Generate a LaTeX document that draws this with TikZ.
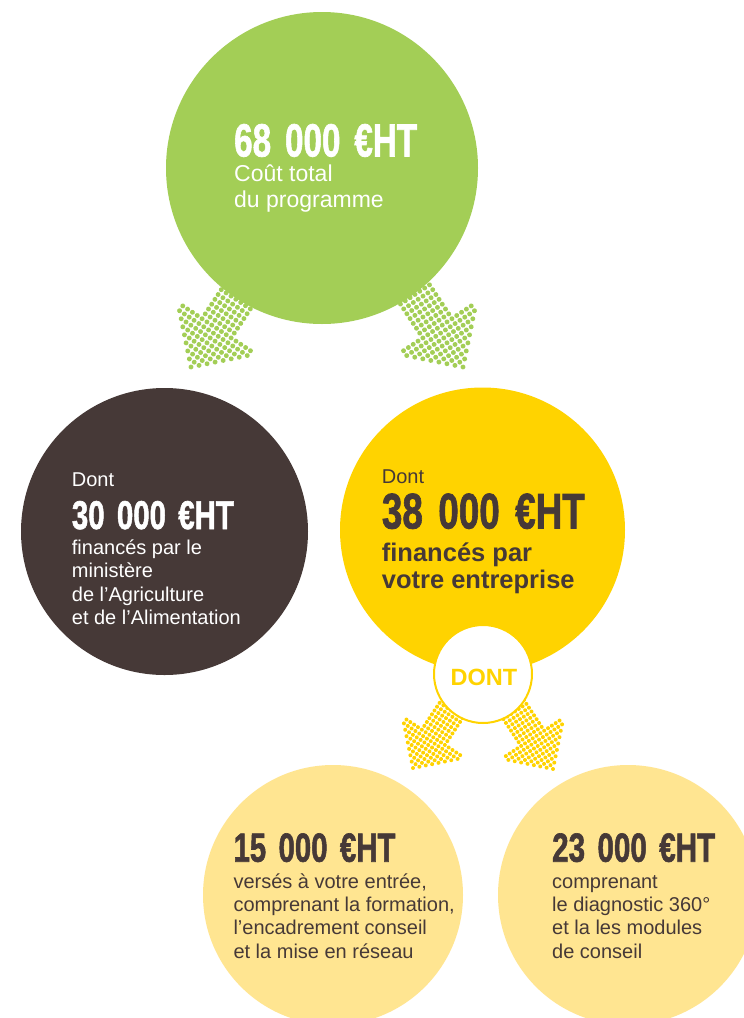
\documentclass[tikz,border=0pt]{standalone}
\usepackage{fontspec}
\setmainfont{Liberation Sans}
\newfontfamily\numfont{Liberation Sans}[FakeBold=1.6]
\usepackage{graphicx}
\definecolor{cgreen}{HTML}{A3CE56}
\definecolor{cdark}{HTML}{463937}
\definecolor{cyellow}{HTML}{FFD300}
\definecolor{cpale}{HTML}{FFE591}
\newcommand\setarrowdims[6]{\def\ah{#1}\def\aw{#2}\def\as{#3}\def\al{#4}\def\asp{#5}\def\ar{#6}}
\newcommand\dotarrow[4]{%
  \begin{scope}[shift={(#1,#2)},rotate=#3]
    \pgfmathtruncatemacro\imax{\al/\asp}
    \pgfmathtruncatemacro\jmax{\aw/\asp}
    \foreach \i in {0,...,\imax}{
      \foreach \j in {-\jmax,...,\jmax}{
        \pgfmathsetmacro\uu{-\i*\asp}
        \pgfmathsetmacro\vv{\j*\asp}
        \pgfmathtruncatemacro\ok{((abs(\uu)<=\ah+0.01)&&(abs(\vv)<=abs(\uu)*\aw/\ah+0.01))||((abs(\uu)>\ah+0.01)&&(abs(\vv)<=\as+0.01))}
        \ifnum\ok=1 \fill[#4] (\uu,\vv) circle[radius=\ar]; \fi
      }
    }
  \end{scope}}
\newcommand\numgap{\hspace{0.42em}}
\tikzset{
  disc/.style={circle, inner sep=0pt, outer sep=0pt},
  num/.style={anchor=base west, inner sep=0pt, font=\numfont\bfseries},
  body/.style={anchor=base west, inner sep=0pt, align=left}
}
\begin{document}
\begin{tikzpicture}[x=1pt,y=-1pt]
\useasboundingbox (0,0) rectangle (744,1018);
\clip (0,0) rectangle (744,1018);
\fill[white] (0,0) rectangle (744,1018);

% green arrows
\setarrowdims{46.4}{46.4}{19}{110}{5.8}{2.45}
\dotarrow{191}{367}{236.5}{cgreen}
\dotarrow{463}{367}{-56.5}{cgreen}

% main circles
\node[disc, fill=cgreen, minimum size=312pt] (cg) at (322,168) {};
\node[disc, fill=cdark, minimum size=287pt] (cd) at (164.5,531.5) {};
\node[disc, fill=cyellow, minimum size=285pt] (cy) at (482.5,530) {};

% yellow arrows
\setarrowdims{36.8}{36.8}{14}{80}{4.6}{2.0}
\dotarrow{413}{768}{236.5}{cyellow}
\dotarrow{553}{769}{-56.5}{cyellow}

\node[disc, fill=white, draw=cyellow, line width=2pt, minimum size=98pt] (cdont) at (483,674) {};
\node[font=\bfseries\fontsize{23.5}{23.5}\selectfont, text=cyellow, inner sep=0pt] (tdont) at (484,677.5) {DONT};

% bottom circles
\node[disc, fill=cpale, minimum size=260pt] (cl) at (333,895) {};
\node[disc, fill=cpale, minimum size=260pt] (cr) at (628,895) {};

% green texts
\node[num, text=white] (n1) at (234,156.5) {\resizebox{183pt}{32.5pt}{68\numgap 000\numgap €HT}};
\node[body, text=white, font=\fontsize{23}{26}\selectfont] (t1) at (234,207.7) {Coût total\\du programme};

% dark texts
\node[body, text=white, font=\fontsize{20}{23}\selectfont] (d0) at (71.7,486.7) {Dont};
\node[num, text=white] (n2) at (71.7,529) {\resizebox{162pt}{28pt}{30\numgap 000\numgap €HT}};
\node[body, text=white, font=\fontsize{20}{23.3}\selectfont] (t2) at (71.7,624.4) {financés par le\\ministère\\de l’Agriculture\\et de l’Alimentation};

% yellow texts
\node[body, text=cdark, font=\fontsize{20}{23}\selectfont] (y0) at (381.7,483.5) {Dont};
\node[num, text=cdark] (n3) at (381.7,528.5) {\resizebox{203pt}{35pt}{38\numgap 000\numgap €HT}};
\node[body, text=cdark, font=\bfseries\fontsize{25.5}{26.8}\selectfont] (t3) at (381.7,588) {financés par\\votre entreprise};

% bottom texts
\node[num, text=cdark] (n4) at (233.3,861.7) {\resizebox{162pt}{28.4pt}{15\numgap 000\numgap €HT}};
\node[body, text=cdark, font=\fontsize{20}{23.3}\selectfont] (t4) at (233.3,958.2) {versés à votre entrée,\\comprenant la formation,\\l’encadrement conseil\\et la mise en réseau};
\node[num, text=cdark] (n5) at (552,861.7) {\resizebox{163pt}{28.4pt}{23\numgap 000\numgap €HT}};
\node[body, text=cdark, font=\fontsize{20}{23.3}\selectfont] (t5) at (552,958.2) {comprenant\\le diagnostic 360°\\et la les modules\\de conseil};
\end{tikzpicture}
\end{document}
